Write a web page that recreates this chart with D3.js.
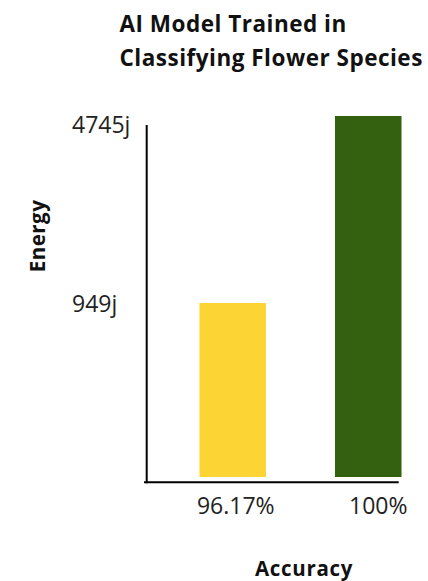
<!DOCTYPE html>
<html>
<head>
<meta charset="utf-8">
<script src="https://cdn.jsdelivr.net/npm/d3@7"></script>
<style>
  html, body { margin: 0; padding: 0; background: #fff; }
  svg { display: block; }
  text { font-family: "Open Sans", sans-serif; }
</style>
</head>
<body>
<svg id="chart" width="428" height="581"></svg>
<script>
// ---- data ----
const categories = ["96.17%", "100%"];
const energyValues = [949, 4745];
const barColors = ["#FCD434", "#33610F"];
const yTickLabels = ["949j", "4745j"];
const titleLines = ["AI Model Trained in", "Classifying Flower Species"];
const xTitle = "Accuracy";
const yTitle = "Energy";

const svg = d3.select("#chart");

// ---- scales ----
const plotBottom = 477;
const xBar = d3.scaleBand().domain(categories).range([199.5, 401.5]).paddingInner(0.509).paddingOuter(0);
const xLabel = d3.scalePoint().domain(categories).range([235.3, 377.8]);
const y = d3.scaleLog().domain([949, 4745]).range([303, 116]);
const yTick = d3.scalePoint().domain(yTickLabels).range([303, 124.5]);

// ---- title ----
svg.append("g").selectAll("text").data(titleLines).join("text")
  .attr("x", 119.5)
  .attr("y", (d, i) => 32 + i * 34.4)
  .attr("font-size", 22.5)
  .attr("font-weight", 700)
  .attr("letter-spacing", 0.5)
  .attr("fill", "#111")
  .text(d => d);

// ---- bars ----
svg.append("g").selectAll("rect").data(categories).join("rect")
  .attr("x", d => xBar(d))
  .attr("width", xBar.bandwidth())
  .attr("y", (d, i) => y(energyValues[i]))
  .attr("height", (d, i) => plotBottom - y(energyValues[i]))
  .attr("fill", (d, i) => barColors[i]);

// ---- axis lines ----
svg.append("line")
  .attr("x1", 146.7).attr("x2", 146.7)
  .attr("y1", 125).attr("y2", 483.2)
  .attr("stroke", "#000").attr("stroke-width", 2);
svg.append("line")
  .attr("x1", 144).attr("x2", 398.7)
  .attr("y1", 482.2).attr("y2", 482.2)
  .attr("stroke", "#000").attr("stroke-width", 2);

// ---- y tick labels ----
const yAxis = svg.append("g")
  .call(d3.axisLeft(yTick).tickSize(0));
yAxis.select(".domain").remove();
yAxis.selectAll("text")
  .attr("x", 72)
  .attr("dy", "0.36em")
  .attr("text-anchor", "start")
  .attr("font-family", "Open Sans, sans-serif")
  .attr("font-size", 23)
  .attr("fill", "#222");

// ---- x tick labels ----
const xAxis = svg.append("g")
  .attr("transform", "translate(0,514)")
  .call(d3.axisBottom(xLabel).tickSize(0).tickPadding(0));
xAxis.select(".domain").remove();
xAxis.selectAll("text")
  .attr("y", 0)
  .attr("dy", 0)
  .attr("font-family", "Open Sans, sans-serif")
  .attr("font-size", 23)
  .attr("fill", "#222");

// ---- axis titles ----
svg.append("text")
  .attr("x", 304).attr("y", 575.5)
  .attr("text-anchor", "middle")
  .attr("font-size", 20.5)
  .attr("font-weight", 700)
  .attr("letter-spacing", 0.7)
  .attr("fill", "#111")
  .text(xTitle);

svg.append("text")
  .attr("transform", "translate(45,236) rotate(-90)")
  .attr("text-anchor", "middle")
  .attr("font-size", 20.5)
  .attr("font-weight", 700)
  .attr("letter-spacing", 0.5)
  .attr("fill", "#111")
  .text(yTitle);
</script>
</body>
</html>
